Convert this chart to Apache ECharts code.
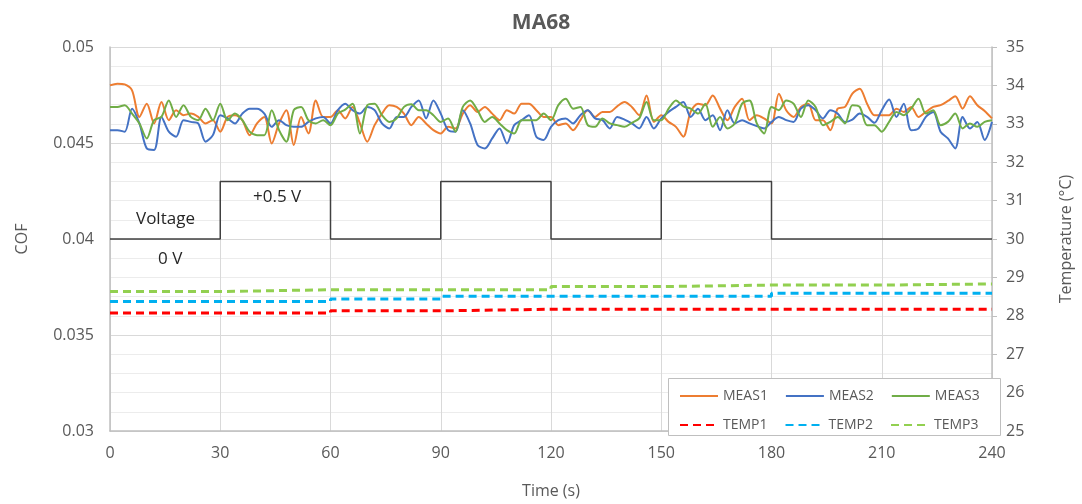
<!DOCTYPE html>
<html>
<head>
<meta charset="utf-8">
<script src="https://cdn.jsdelivr.net/npm/echarts@6/dist/echarts.min.js"></script>
<style>
  html, body { margin: 0; padding: 0; background: #ffffff; }
  #chart { width: 1082px; height: 504px; }
</style>
</head>
<body>
<div id="chart"></div>
<script>
// COF samples every 2 s, 0..240 s
var meas1 = [
  0.04800, 0.04809, 0.04805, 0.04774, 0.04636, 0.04705, 0.04602, 0.04714, 0.04619, 0.04671,
  0.04645, 0.04653, 0.04636, 0.04602, 0.04619, 0.04559, 0.04636, 0.04645, 0.04619, 0.04541,
  0.04602, 0.04636, 0.04498, 0.04602, 0.04671, 0.04490, 0.04636, 0.04550, 0.04722, 0.04636,
  0.04636, 0.04671, 0.04628, 0.04688, 0.04602, 0.04507, 0.04593, 0.04653, 0.04697, 0.04688,
  0.04653, 0.04593, 0.04636, 0.04602, 0.04567, 0.04550, 0.04584, 0.04576, 0.04653, 0.04697,
  0.04662, 0.04688, 0.04653, 0.04619, 0.04671, 0.04653, 0.04705, 0.04705, 0.04671, 0.04636,
  0.04636, 0.04593, 0.04602, 0.04567, 0.04619, 0.04671, 0.04636, 0.04662, 0.04662, 0.04691,
  0.04714, 0.04688, 0.04645, 0.04748, 0.04610, 0.04645, 0.04610, 0.04584, 0.04533, 0.04662,
  0.04705, 0.04697, 0.04748, 0.04679, 0.04619, 0.04688, 0.04731, 0.04619, 0.04645, 0.04628,
  0.04602, 0.04757, 0.04671, 0.04636, 0.04688, 0.04705, 0.04619, 0.04619, 0.04567, 0.04679,
  0.04688, 0.04757, 0.04783, 0.04705, 0.04645, 0.04645, 0.04645, 0.04679, 0.04662, 0.04688,
  0.04636, 0.04662, 0.04688, 0.04697, 0.04719, 0.04743, 0.04679, 0.04743, 0.04697, 0.04667,
  0.04628
];
var meas2 = [
  0.04567, 0.04567, 0.04559, 0.04679, 0.04602, 0.04472, 0.04464, 0.04636, 0.04559, 0.04533,
  0.04619, 0.04610, 0.04602, 0.04507, 0.04541, 0.04645, 0.04628, 0.04602, 0.04653, 0.04679,
  0.04679, 0.04653, 0.04584, 0.04619, 0.04593, 0.04584, 0.04584, 0.04610, 0.04628, 0.04636,
  0.04602, 0.04671, 0.04705, 0.04671, 0.04653, 0.04688, 0.04671, 0.04602, 0.04576, 0.04636,
  0.04636, 0.04688, 0.04722, 0.04628, 0.04722, 0.04653, 0.04567, 0.04559, 0.04671, 0.04602,
  0.04490, 0.04472, 0.04524, 0.04576, 0.04498, 0.04593, 0.04619, 0.04645, 0.04533, 0.04516,
  0.04584, 0.04619, 0.04628, 0.04602, 0.04645, 0.04671, 0.04628, 0.04619, 0.04576, 0.04636,
  0.04622, 0.04602, 0.04576, 0.04636, 0.04576, 0.04628, 0.04662, 0.04688, 0.04714, 0.04636,
  0.04679, 0.04619, 0.04645, 0.04567, 0.04671, 0.04602, 0.04619, 0.04602, 0.04588, 0.04576,
  0.04610, 0.04636, 0.04619, 0.04610, 0.04679, 0.04697, 0.04671, 0.04628, 0.04671, 0.04653,
  0.04610, 0.04622, 0.04653, 0.04636, 0.04605, 0.04671, 0.04726, 0.04636, 0.04705, 0.04567,
  0.04576, 0.04636, 0.04662, 0.04559, 0.04524, 0.04472, 0.04636, 0.04576, 0.04610, 0.04516,
  0.04610
];
var meas3 = [
  0.04688, 0.04688, 0.04697, 0.04653, 0.04602, 0.04524, 0.04619, 0.04636, 0.04722, 0.04636,
  0.04697, 0.04636, 0.04619, 0.04679, 0.04619, 0.04705, 0.04619, 0.04653, 0.04619, 0.04559,
  0.04541, 0.04541, 0.04671, 0.04567, 0.04507, 0.04671, 0.04688, 0.04619, 0.04602, 0.04619,
  0.04593, 0.04653, 0.04674, 0.04705, 0.04550, 0.04697, 0.04705, 0.04645, 0.04610, 0.04628,
  0.04688, 0.04702, 0.04671, 0.04671, 0.04645, 0.04610, 0.04628, 0.04559, 0.04688, 0.04722,
  0.04671, 0.04610, 0.04636, 0.04602, 0.04567, 0.04550, 0.04619, 0.04619, 0.04619, 0.04653,
  0.04619, 0.04697, 0.04731, 0.04679, 0.04688, 0.04593, 0.04584, 0.04628, 0.04602, 0.04593,
  0.04584, 0.04605, 0.04628, 0.04714, 0.04619, 0.04619, 0.04679, 0.04722, 0.04691, 0.04679,
  0.04653, 0.04705, 0.04584, 0.04636, 0.04576, 0.04602, 0.04705, 0.04722, 0.04602, 0.04550,
  0.04688, 0.04671, 0.04722, 0.04705, 0.04636, 0.04722, 0.04688, 0.04593, 0.04610, 0.04636,
  0.04602, 0.04697, 0.04688, 0.04593, 0.04593, 0.04559, 0.04610, 0.04662, 0.04645, 0.04679,
  0.04731, 0.04653, 0.04671, 0.04593, 0.04610, 0.04653, 0.04576, 0.04602, 0.04584, 0.04610,
  0.04619
];
var sampleStep = 2;

// temperature (°C), one value per 30 s block, last repeats to close the step
var blockTimes = [0, 30, 60, 90, 120, 150, 180, 210, 240];
var temp1 = [28.07, 28.07, 28.13, 28.17, 28.17, 28.17, 28.17, 28.17, 28.17];
var temp2 = [28.37, 28.37, 28.44, 28.51, 28.51, 28.51, 28.59, 28.59, 28.59];
var temp3 = [28.63, 28.68, 28.68, 28.68, 28.76, 28.80, 28.80, 28.83, 28.83];

// voltage trace drawn on the temperature scale (30 = 0 V, 31.5 = +0.5 V)
var voltTimes = [0, 30, 60, 90, 120, 150, 180, 240];
var voltLevel = [30, 31.5, 30, 31.5, 30, 31.5, 30, 30];

function pairs(xs, ys) {
  var out = [];
  for (var i = 0; i < ys.length; i++) out.push([xs[i], ys[i]]);
  return out;
}
function sampled(ys) {
  var out = [];
  for (var i = 0; i < ys.length; i++) out.push([i * sampleStep, ys[i]]);
  return out;
}

var grey = '#595959';
var font = 'Open Sans, Noto Sans, sans-serif';

var chart = echarts.init(document.getElementById('chart'));

var measSeries = function (name, data, color) {
  return {
    name: name, type: 'line', yAxisIndex: 0, data: sampled(data),
    symbol: 'none', smooth: 0.3, lineStyle: { color: color, width: 2 },
    itemStyle: { color: color }, z: 3
  };
};
var tempSeries = function (name, data, color) {
  return {
    name: name, type: 'line', yAxisIndex: 1, data: pairs(blockTimes, data),
    step: 'end', symbol: 'none',
    lineStyle: { color: color, width: 3, type: [8, 5] },
    itemStyle: { color: color }, z: 2
  };
};

// legend rows: line only, no marker dot
var legendRow = function (names, top) {
  return {
    data: names, left: 674, top: top, z: 20,
    itemWidth: 38, itemHeight: 10, itemGap: 17,
    itemStyle: { opacity: 0 },
    textStyle: { color: grey, fontSize: 14, fontFamily: font }
  };
};

chart.setOption({
  animation: false,
  backgroundColor: '#ffffff',
  title: {
    text: 'MA68', left: 'center', top: 8,
    textStyle: { color: grey, fontSize: 21, fontWeight: 'bold', fontFamily: font }
  },
  grid: { left: 110, right: 82, top: 47, bottom: 69, containLabel: false },
  legend: [
    legendRow(['MEAS1', 'MEAS2', 'MEAS3'], 384),
    legendRow(['TEMP1', 'TEMP2', 'TEMP3'], 413)
  ],
  xAxis: {
    type: 'value', min: 0, max: 240, interval: 30,
    name: 'Time (s)', nameLocation: 'middle', nameGap: 52,
    nameTextStyle: { color: grey, fontSize: 16, fontFamily: font },
    axisLine: { show: true, lineStyle: { color: '#bfbfbf', width: 1.5 } },
    axisTick: { show: false },
    axisLabel: { color: grey, fontSize: 16, fontFamily: font, margin: 14 },
    splitLine: { show: true, lineStyle: { color: '#d9d9d9' } }
  },
  yAxis: [
    {
      type: 'value', min: 0.03, max: 0.05, interval: 0.005,
      name: 'COF', nameLocation: 'middle', nameGap: 80,
      nameTextStyle: { color: grey, fontSize: 16, fontFamily: font },
      axisLine: { show: true, lineStyle: { color: '#bfbfbf', width: 1.5 } },
      axisTick: { show: false },
      axisLabel: { color: grey, fontSize: 16, fontFamily: font, margin: 16 },
      splitLine: { show: true, lineStyle: { color: '#d9d9d9' } },
      minorTick: { show: false, splitNumber: 5 },
      minorSplitLine: { show: true, lineStyle: { color: '#ececec' } }
    },
    {
      type: 'value', min: 25, max: 35, interval: 1, position: 'right',
      name: 'Temperature (°C)', nameLocation: 'middle', nameGap: 66,
      nameTextStyle: { color: grey, fontSize: 16, fontFamily: font },
      axisLine: { show: true, lineStyle: { color: '#bfbfbf', width: 1.5 } },
      axisTick: { show: true, inside: false, length: 5, lineStyle: { color: '#bfbfbf' } },
      axisLabel: { color: grey, fontSize: 16, fontFamily: font, margin: 14 },
      splitLine: { show: false }
    }
  ],
  graphic: [
    {
      type: 'rect', left: 668, top: 378, z: 5,
      shape: { width: 332, height: 57 },
      style: { fill: '#ffffff', stroke: '#bfbfbf', lineWidth: 1 }
    },
    { type: 'text', left: 136, top: 211, z: 6,
      style: { text: 'Voltage', fill: '#262626', fontSize: 17, fontFamily: font } },
    { type: 'text', left: 253, top: 189, z: 6,
      style: { text: '+0.5 V', fill: '#262626', fontSize: 17, fontFamily: font } },
    { type: 'text', left: 158, top: 251, z: 6,
      style: { text: '0 V', fill: '#262626', fontSize: 17, fontFamily: font } }
  ],
  series: [
    {
      name: 'Voltage', type: 'line', yAxisIndex: 1, data: pairs(voltTimes, voltLevel),
      step: 'end', symbol: 'none', lineStyle: { color: '#404040', width: 1.5 }, z: 1
    },
    tempSeries('TEMP1', temp1, '#ff0000'),
    tempSeries('TEMP2', temp2, '#00b0f0'),
    tempSeries('TEMP3', temp3, '#92d050'),
    measSeries('MEAS1', meas1, '#ed7d31'),
    measSeries('MEAS2', meas2, '#4472c4'),
    measSeries('MEAS3', meas3, '#70ad47')
  ]
});
</script>
</body>
</html>
